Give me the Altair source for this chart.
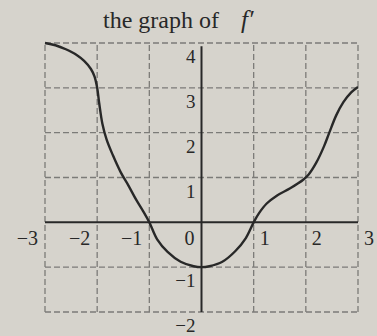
import altair as alt
import pandas as pd

# f'(x) sampled along the curve
curve_x = [-3.0, -2.8, -2.6, -2.4, -2.25, -2.12, -2.05, -2.0, -1.96, -1.9, -1.82,
           -1.7, -1.55, -1.4, -1.25, -1.12, -1.0, -0.85, -0.65, -0.4, -0.15, 0.0,
           0.15, 0.4, 0.65, 0.85, 1.0, 1.1, 1.25, 1.45, 1.7, 1.95, 2.05, 2.2, 2.35,
           2.45, 2.58, 2.72, 2.87, 3.0]
curve_y = [4.0, 3.95, 3.86, 3.74, 3.6, 3.42, 3.25, 3.0, 2.65, 2.2, 1.85,
           1.5, 1.12, 0.82, 0.5, 0.25, 0.0, -0.38, -0.66, -0.88, -0.98, -1.0,
           -0.98, -0.88, -0.64, -0.35, 0.0, 0.2, 0.42, 0.6, 0.76, 0.95, 1.06, 1.33, 1.7,
           2.0, 2.38, 2.68, 2.9, 3.02]

# grid and tick values
grid_x = [-3, -2, -1, 1, 2, 3]
grid_y = [-2, -1, 1, 2, 3, 4]
xtick_left = [-3, -2, -1, 0]
xtick_left_text = ["\u22123", "\u22122", "\u22121", "0"]
xtick_right = [1, 2, 3]
xtick_right_text = ["1", "2", "3"]
ytick = [4, 3, 2, 1, -1, -2]
ytick_text = ["4", "3", "2", "1", "\u22121", "\u22122"]

INK = "#282828"
GRID = "#7c7b78"
FONT = "Liberation Serif"

xs = alt.Scale(domain=[-3, 3], nice=False, zero=False)
ys = alt.Scale(domain=[-2, 4], nice=False, zero=False)

vgrid = alt.Chart(pd.DataFrame({"x": grid_x})).mark_rule(
    color=GRID, strokeWidth=1.3, strokeDash=[6, 3]
).encode(
    x=alt.X("x:Q", scale=xs, axis=None),
    y=alt.Y(datum=-2, scale=ys, axis=None),
    y2=alt.Y2(datum=4),
)

hgrid = alt.Chart(pd.DataFrame({"y": grid_y})).mark_rule(
    color=GRID, strokeWidth=1.3, strokeDash=[6, 3]
).encode(
    y=alt.Y("y:Q", scale=ys, axis=None),
    x=alt.X(datum=-3, scale=xs, axis=None),
    x2=alt.X2(datum=3),
)

x_axis = alt.Chart(pd.DataFrame({"y": [0]})).mark_rule(
    color=INK, strokeWidth=2
).encode(
    y=alt.Y("y:Q", scale=ys, axis=None),
    x=alt.X(datum=-3, scale=xs, axis=None),
    x2=alt.X2(datum=3),
)

y_axis = alt.Chart(pd.DataFrame({"x": [0]})).mark_rule(
    color=INK, strokeWidth=2
).encode(
    x=alt.X("x:Q", scale=xs, axis=None),
    y=alt.Y(datum=-2, scale=ys, axis=None),
    y2=alt.Y2(datum=3.93),
)

line = alt.Chart(pd.DataFrame({"x": curve_x, "y": curve_y})).mark_line(
    color=INK, strokeWidth=2.4, interpolate="catmull-rom"
).encode(
    x=alt.X("x:Q", scale=xs, axis=None),
    y=alt.Y("y:Q", scale=ys, axis=None),
)

xl_left = alt.Chart(pd.DataFrame({"x": xtick_left, "t": xtick_left_text})).mark_text(
    font=FONT, fontSize=20, color=INK, align="right", baseline="middle", dx=-7, dy=17
).encode(
    x=alt.X("x:Q", scale=xs, axis=None),
    y=alt.Y(datum=0, scale=ys, axis=None),
    text="t:N",
)

xl_right = alt.Chart(pd.DataFrame({"x": xtick_right, "t": xtick_right_text})).mark_text(
    font=FONT, fontSize=20, color=INK, align="left", baseline="middle", dx=6, dy=17
).encode(
    x=alt.X("x:Q", scale=xs, axis=None),
    y=alt.Y(datum=0, scale=ys, axis=None),
    text="t:N",
)

yl = alt.Chart(pd.DataFrame({"y": ytick, "t": ytick_text})).mark_text(
    font=FONT, fontSize=19, color=INK, align="right", baseline="middle", dx=-6, dy=14
).encode(
    y=alt.Y("y:Q", scale=ys, axis=None),
    x=alt.X(datum=0, scale=xs, axis=None),
    text="t:N",
)

title_a = alt.Chart(pd.DataFrame({"t": ["the graph of"]})).mark_text(
    font=FONT, fontSize=24, color=INK, align="left", baseline="alphabetic"
).encode(text="t:N", x=alt.value(58), y=alt.value(-15))

title_b = alt.Chart(pd.DataFrame({"t": ["f\u2032"]})).mark_text(
    font=FONT, fontSize=25, fontStyle="italic", color=INK, align="left", baseline="alphabetic"
).encode(text="t:N", x=alt.value(196), y=alt.value(-15))

chart = alt.layer(
    vgrid, hgrid, x_axis, y_axis, line, xl_left, xl_right, yl, title_a, title_b
).properties(
    width=313,
    height=269,
    padding={"left": 45, "top": 43, "right": 19, "bottom": 24},
    autosize=alt.AutoSizeParams(type="none"),
    background="#d6d3cc",
).configure_view(stroke=None)

chart.save("out.html", embed_options={"renderer": "svg", "actions": False})
